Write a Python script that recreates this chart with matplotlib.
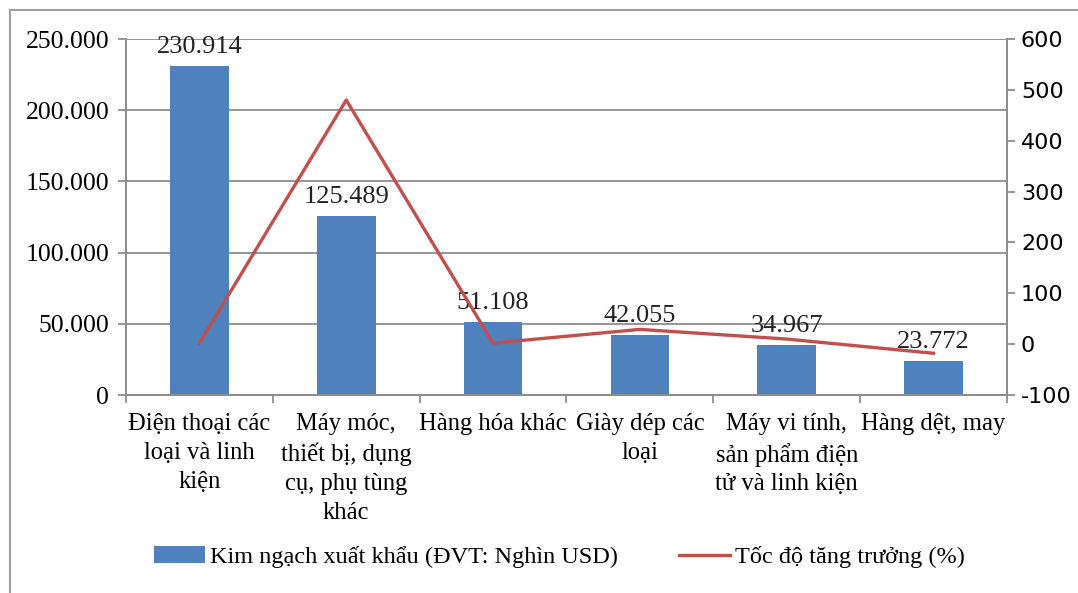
import matplotlib.pyplot as plt
from matplotlib.patches import Rectangle
from matplotlib.ticker import FuncFormatter

plt.rcParams['axes.unicode_minus'] = False

categories = ["Điện thoại các\nloại và linh\nkiện",
              "Máy móc,\nthiết bị, dụng\ncụ, phụ tùng\nkhác",
              "Hàng hóa khác",
              "Giày dép các\nloại",
              "Máy vi tính,\nsản phẩm điện\ntử và linh kiện",
              "Hàng dệt, may"]
kim_ngach = [230914, 125489, 51108, 42055, 34967, 23772]
toc_do = [2, 480, 2, 29, 10, -18]

bar_color = '#4F81BD'
line_color = '#C0504D'
grid_color = '#8C8C8C'
serif = 'Liberation Serif'

fig = plt.figure(figsize=(10.78, 5.93), dpi=100)
ax = fig.add_axes([126/1078, 1-395/593, (1007-126)/1078, (395-39)/593])
ax2 = ax.twinx()

x = list(range(len(categories)))
bars = ax.bar(x, kim_ngach, width=0.4, color=bar_color, zorder=2,
              label='Kim ngạch xuất khẩu (ĐVT: Nghìn USD)')
ln, = ax2.plot(x, toc_do, color=line_color, lw=2.4, zorder=3,
               label='Tốc độ tăng trưởng (%)')

ax.set_xlim(-0.5, len(categories)-0.5)
ax.set_ylim(0, 250000)
ax.set_yticks(range(0, 250001, 50000))
ax.yaxis.set_major_formatter(FuncFormatter(lambda v, p: f"{int(v):,}".replace(',', '.')))
ax.yaxis.grid(True, color=grid_color, lw=1.3, zorder=0)
ax.set_axisbelow(True)

ax2.set_ylim(-100, 600)
ax2.set_yticks(range(-100, 601, 100))

for b, v in zip(bars, kim_ngach):
    ax.annotate(f"{v:,}".replace(',', '.'), (b.get_x()+b.get_width()/2, v),
                xytext=(0, 6), textcoords='offset points', ha='center', va='bottom',
                fontsize=19, family=serif, color='#222222', zorder=4)

ax.set_xticks(x)
ax.set_xticklabels(categories, family=serif, fontsize=17.7, linespacing=1.4, va='top')
ax.set_xticks([i+0.5 for i in range(-1, len(categories))], minor=True)
ax.tick_params(axis='x', which='major', length=0, pad=13)
ax.tick_params(axis='x', which='minor', length=6, color=grid_color, width=1.3)
ax.tick_params(axis='y', length=6, color=grid_color, width=1.3, labelsize=18.5, pad=6,
               labelfontfamily=serif)
ax2.tick_params(axis='y', length=6, color=grid_color, width=1.3, labelsize=16, pad=4,
                labelfontfamily='DejaVu Sans')

for a in (ax, ax2):
    for s in a.spines.values():
        s.set_color(grid_color)
        s.set_linewidth(1.3)
    a.spines['top'].set_visible(False)

fig.legend(handles=[bars, ln], loc='center', bbox_to_anchor=(0.519, 1-557/593),
           ncol=2, frameon=False, prop={'family': serif, 'size': 17.5},
           handlelength=2.1, handletextpad=0.2, columnspacing=2.5)

fig.patches.append(Rectangle((10/1078, -0.05), 1.1, 1-10/593+0.05, transform=fig.transFigure,
                             fill=False, edgecolor='#A0A0A0', lw=1.5))

fig.savefig('out.png', dpi=100)
